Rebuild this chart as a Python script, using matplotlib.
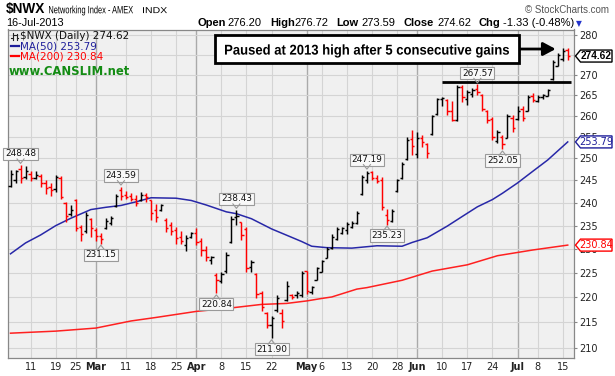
import matplotlib
matplotlib.use("Agg")
import matplotlib.pyplot as plt
import matplotlib.transforms as mtrans
from matplotlib.lines import Line2D
from matplotlib.patches import Polygon, Rectangle, PathPatch
from matplotlib.textpath import TextPath
from matplotlib.font_manager import FontProperties
from matplotlib.ticker import FixedLocator, NullLocator, FixedFormatter
import pandas as pd

# ---------------- data ----------------
holidays = ["2013-02-18", "2013-03-29", "2013-05-27", "2013-07-04"]
dates = pd.bdate_range("2013-02-05", "2013-07-16", freq="C", holidays=holidays)

opens = [243.8, 245.0, 247.5, 245.8, 246.5, 245.5, 246.0, 244.5, 243.5, 243.0,
         245.5, 240.0, 237.5, 240.5, 234.8, 233.8, 236.5, 234.0, 232.8, 234.5,
         235.5, 239.3, 242.8, 241.8, 241.5, 240.8, 240.5, 241.8, 240.5, 238.5,
         238.5, 236.3, 235.2, 234.0, 232.6, 230.8, 232.6, 233.5, 231.8, 229.8,
         227.8, 224.5, 223.3, 225.5, 231.5, 236.8, 235.7, 234.3, 226.3, 224.8,
         221.0, 216.8, 214.5, 217.5, 216.8, 219.5, 220.5, 220.4, 220.5, 225.4,
         221.2, 223.6, 225.3, 228.2, 230.3, 232.2, 233.5, 234.0, 234.8, 235.6,
         242.0, 245.0, 246.8, 245.6, 245.0, 237.4, 236.0, 242.6, 245.5, 249.8,
         254.5, 251.0, 254.8, 253.2, 255.6, 260.5, 264.0, 263.8, 261.0, 259.0,
         267.0, 264.0, 265.2, 266.4, 265.0, 261.2, 259.2, 254.0, 255.0, 254.8,
         259.5, 259.2, 261.5, 261.2, 264.8, 263.6, 264.4, 264.8, 268.8, 272.2,
         273.8, 276.20]
highs = [247.3, 247.4, 248.48, 248.2, 247.0, 247.2, 246.5, 245.0, 244.5, 246.2,
         246.0, 240.2, 239.4, 240.9, 235.2, 238.0, 236.7, 234.4, 233.5, 236.6,
         237.0, 242.0, 243.59, 242.6, 242.2, 241.8, 242.4, 242.2, 240.7, 239.8,
         239.8, 236.6, 235.7, 234.7, 233.8, 233.0, 233.7, 234.5, 232.3, 230.6,
         228.6, 224.9, 225.2, 229.3, 237.0, 238.43, 235.7, 234.7, 227.8, 224.9,
         221.4, 217.0, 216.3, 220.5, 217.7, 223.3, 220.8, 221.4, 225.5, 225.5,
         222.4, 226.2, 227.8, 230.5, 233.1, 234.7, 234.7, 235.7, 235.9, 238.2,
         246.2, 247.19, 247.0, 246.2, 245.8, 238.6, 238.6, 245.4, 249.2, 255.0,
         256.6, 256.2, 255.4, 253.5, 260.1, 264.3, 264.5, 264.0, 263.6, 267.3,
         267.4, 266.3, 266.6, 267.57, 265.2, 261.4, 259.7, 256.6, 255.4, 260.5,
         260.1, 262.4, 262.4, 265.0, 265.4, 265.0, 265.3, 266.5, 273.6, 275.3,
         276.6, 276.72]
lows = [243.5, 244.3, 244.5, 245.3, 244.8, 245.2, 243.5, 242.0, 241.5, 242.4,
        240.8, 235.8, 237.0, 233.8, 231.8, 233.5, 232.5, 231.7, 231.15, 234.2,
        235.1, 239.1, 240.6, 240.8, 240.3, 239.2, 240.4, 240.2, 236.2, 235.7,
        238.2, 233.7, 232.9, 231.1, 231.0, 229.5, 232.3, 230.8, 228.6, 227.5,
        226.9, 220.84, 222.9, 224.9, 231.3, 235.1, 231.9, 225.2, 225.2, 219.8,
        217.3, 214.0, 211.9, 217.0, 214.0, 219.2, 219.7, 219.8, 220.1, 220.8,
        220.8, 223.5, 225.2, 228.1, 230.1, 231.9, 233.2, 233.3, 234.5, 235.4,
        241.8, 244.5, 245.0, 244.5, 238.4, 235.23, 235.7, 242.4, 245.3, 249.6,
        250.7, 250.0, 252.5, 250.0, 255.4, 260.1, 262.4, 260.2, 258.6, 258.8,
        263.3, 262.6, 264.6, 265.0, 261.0, 258.3, 254.2, 253.5, 252.05, 254.6,
        256.2, 258.9, 258.6, 261.0, 263.3, 263.3, 263.9, 264.7, 268.6, 272.0,
        273.3, 273.59]
closes = [246.5, 247.0, 245.6, 247.2, 245.5, 246.3, 244.5, 243.2, 242.8, 245.8,
          241.2, 237.0, 238.5, 234.5, 233.2, 237.3, 234.5, 232.8, 232.2, 236.0,
          236.7, 241.6, 241.5, 241.3, 240.9, 240.0, 241.8, 241.2, 237.8, 236.8,
          239.4, 234.6, 233.8, 232.4, 231.8, 232.3, 233.4, 231.6, 229.8, 228.3,
          228.4, 223.5, 224.8, 228.8, 236.5, 237.2, 233.0, 226.0, 227.3, 220.6,
          218.0, 214.6, 215.8, 219.8, 215.3, 222.4, 220.0, 221.0, 225.0, 221.4,
          222.2, 226.0, 227.5, 230.0, 232.6, 234.3, 234.5, 235.3, 235.6, 237.8,
          245.8, 246.7, 245.6, 244.9, 239.0, 236.3, 238.2, 245.0, 248.8, 254.2,
          252.8, 254.6, 253.8, 251.2, 259.8, 264.0, 264.3, 261.2, 259.0, 266.8,
          264.5, 265.6, 266.2, 265.6, 261.6, 259.0, 255.0, 256.0, 253.2, 259.8,
          257.0, 261.2, 259.4, 264.5, 263.8, 264.6, 265.0, 266.3, 273.2, 274.8,
          275.95, 274.62]

ma50_days = [0, 3, 6, 9, 12, 16, 19, 22, 25, 28, 33, 36, 39, 43, 45, 48, 52, 56,
             58, 60, 63, 68, 73, 78, 80, 83, 87, 90, 93, 96, 98, 101, 104, 107, 111]
ma50_vals = [229.0, 231.3, 233.0, 235.0, 236.6, 238.5, 239.0, 239.4, 240.2, 241.1,
             241.0, 240.5, 239.5, 238.0, 237.6, 236.5, 234.3, 232.5, 231.6, 230.6,
             230.3, 230.2, 230.7, 230.6, 231.4, 232.4, 234.9, 237.0, 239.1, 240.7,
             242.1, 244.4, 247.0, 249.6, 253.79]
ma200_days = [0, 9, 17, 24, 29, 37, 44, 50, 55, 59, 62, 64, 69, 71, 78, 84, 91, 97, 104, 111]
ma200_vals = [212.9, 213.3, 213.9, 215.3, 216.0, 217.2, 217.9, 218.6, 218.8, 219.3,
              219.8, 220.1, 221.7, 222.0, 223.5, 225.4, 226.7, 228.6, 229.8, 230.84]

tick_dates = ["2013-02-11", "2013-02-19", "2013-02-25", "2013-03-01", "2013-03-11",
              "2013-03-18", "2013-03-25", "2013-04-01", "2013-04-08", "2013-04-15",
              "2013-04-22", "2013-05-01", "2013-05-06", "2013-05-13", "2013-05-20",
              "2013-05-28", "2013-06-03", "2013-06-10", "2013-06-17", "2013-06-24",
              "2013-07-01", "2013-07-08", "2013-07-15"]
tick_labels = ["11", "19", "25", "Mar", "11", "18", "25", "Apr", "8", "15", "22",
               "May", "6", "13", "20", "28", "Jun", "10", "17", "24", "Jul", "8", "15"]
month_labels = {"Mar", "Apr", "May", "Jun", "Jul"}

y_ticks = [210, 215, 220, 225, 230, 235, 240, 245, 250, 255, 260, 265, 270, 275, 280]
y_tick_labels = ["210", "215", "220", "225", "230", "235", "240", "245", "250",
                 "255", "260", "265", "270", "", "280"]   # 275 sits under the close box

# high/low callouts: (day index, value, above?)
callouts = [(2, 248.48, True), (18, 231.15, False), (22, 243.59, True),
            (41, 220.84, False), (45, 238.43, True), (52, 211.90, False),
            (71, 247.19, True), (75, 235.23, False), (93, 267.57, True),
            (98, 252.05, False)]
resistance = 268.2
last_close, ma50_last, ma200_last = 274.62, 253.79, 230.84
note_text = "Paused at 2013 high after 5 consecutive gains"

# ---------------- figure ----------------
W, H = 615, 376
fig = plt.figure(figsize=(W / 100, H / 100), dpi=100)
fig.patch.set_facecolor("white")
L, R, T, B = 8, 574, 29.5, 358
ax = fig.add_axes([L / W, 1 - B / H, (R - L) / W, (B - T) / H])
ax.set_facecolor("#F0F0F0")
ax.set_yscale("log")
ax.set_ylim(208.1, 281.4)
ax.set_xlim(-0.5, 112.25)

xs = list(range(len(dates)))
date_index = {d.strftime("%Y-%m-%d"): i for i, d in enumerate(dates)}
tick_pos = [date_index[d] for d in tick_dates]

# grid
for p, lab in zip(tick_pos, tick_labels):
    if lab in month_labels:
        ax.axvline(p, color="#AAAAAA", lw=1.0, zorder=0)
    else:
        ax.axvline(p, color="#D4D4D4", lw=0.8, zorder=0)
for v in y_ticks:
    ax.axhline(v, color="#D4D4D4", lw=0.8, zorder=0)

# MAs
ax.plot(ma200_days, ma200_vals, color="#FF2020", lw=1.1, zorder=2)
ax.plot(ma50_days, ma50_vals, color="#2828A8", lw=1.1, zorder=2)

# OHLC bars
tk = 0.45
for i in xs:
    up = i == 0 or closes[i] >= closes[i - 1]
    c = "black" if up else "#FF0000"
    ax.vlines(i, lows[i], highs[i], color=c, lw=1.05, zorder=3)
    ax.hlines(opens[i], i - tk, i, color=c, lw=1.05, zorder=3)
    ax.hlines(closes[i], i, i + tk, color=c, lw=1.05, zorder=3)

# resistance line
ax.hlines(resistance, 86, 111.6, color="black", lw=2.0, zorder=4)

# axes styling
for s in ax.spines.values():
    s.set_color("#888888")
    s.set_linewidth(0.9)
ax.yaxis.tick_right()
ax.yaxis.set_major_locator(FixedLocator(y_ticks))
ax.yaxis.set_major_formatter(FixedFormatter(y_tick_labels))
ax.yaxis.set_minor_locator(NullLocator())
ax.tick_params(axis="y", which="both", length=2, pad=2, labelsize=7,
               colors="#888888", labelcolor="#222222")
ax.set_xticks(tick_pos)
ax.set_xticklabels(tick_labels)
ax.tick_params(axis="x", length=0, pad=3, labelsize=7, labelcolor="#222222")
for tl in ax.get_xticklabels():
    if tl.get_text() in month_labels:
        tl.set_fontweight("bold")

ident = mtrans.IdentityTransform()

# callout boxes
for i, v, above in callouts:
    xd, yd = ax.transData.transform((i, v))
    off = 11 if above else -11
    yc = yd + off
    ax.text(xd, yc, f"{v:.2f}", transform=ident, ha="center", va="center",
            fontsize=6.4, color="#111111", zorder=9, clip_on=False,
            bbox=dict(boxstyle="square,pad=0.18", fc="#F8F8F8", ec="#9A9A9A", lw=0.8))
    edge = yc - 5 if above else yc + 5
    tip = yd + 1.5 if above else yd - 1.5
    ax.add_line(Line2D([xd - 3.5, xd, xd + 3.5], [edge, tip, edge], transform=ident,
                       color="#9A9A9A", lw=0.8, zorder=9, clip_on=False))


# right value boxes
def right_box(val, txt_color, edge_color, bold):
    _, yd = ax.transData.transform((0, val))
    x0 = R + 1.5
    poly = [(x0, yd), (x0 + 5, yd + 6), (612, yd + 6), (612, yd - 6), (x0 + 5, yd - 6)]
    ax.add_patch(Polygon(poly, closed=True, transform=ident, fc="white", ec=edge_color,
                         lw=1.0, zorder=10, clip_on=False))
    ax.text((x0 + 5 + 612) / 2, yd, f"{val:.2f}", transform=ident, ha="center",
            va="center", fontsize=7.3 if bold else 7, color=txt_color,
            fontweight="bold" if bold else "normal",
            family=["Liberation Sans", "DejaVu Sans"] if bold else ["DejaVu Sans"],
            zorder=11, clip_on=False)


right_box(last_close, "black", "black", True)
right_box(ma50_last, "#1E1E9A", "#1E1E9A", False)
right_box(ma200_last, "#FF0000", "#FF0000", False)


# narrow text drawn as a horizontally compressed path (pixel coords from top-left)
def path_text(s, x_px, y_px, size_px, width_px, weight="normal", color="black",
              ha="left", zorder=20):
    tp = TextPath((0, 0), s, size=size_px,
                  prop=FontProperties(family="Liberation Sans", weight=weight))
    bb = tp.get_extents()
    sx = width_px / bb.width
    ref = bb.x0 if ha == "left" else bb.x0 + bb.width / 2
    cap = 0.716 * size_px
    tr = mtrans.Affine2D().translate(-ref, -cap / 2).scale(sx, 1).translate(x_px, H - y_px)
    fig.add_artist(PathPatch(tp, transform=tr, fc=color, ec="none", lw=0, zorder=zorder))


# annotation box + arrow
box_l, box_r, box_t, box_b = 215, 519, 35, 63
fig.add_artist(Rectangle((box_l, H - box_b), box_r - box_l, box_b - box_t, transform=ident,
                         fc="white", ec="black", lw=2.0, zorder=15))
path_text(note_text, (box_l + box_r) / 2, 49.5, 14.2, 284, weight="bold", ha="center", zorder=16)
_, y_arrow = ax.transData.transform((108.6, 276.4))
ax.annotate("", xy=(108.6, 276.4), xycoords="data", xytext=(box_r + 1, y_arrow),
            textcoords="figure pixels", zorder=12,
            arrowprops=dict(arrowstyle="-|>,head_length=0.75,head_width=0.4",
                            color="black", lw=2.0, shrinkA=0, shrinkB=0))


# ---------------- header texts ----------------
def ftext(x, y, s, **kw):
    fig.text(x / W, 1 - y / H, s, va="center", **kw)


ftext(6, 9, "$NWX", fontsize=9.8, fontweight="bold", family="Liberation Sans")
path_text("Networking Index - AMEX", 49, 9.5, 10.6, 84)
path_text("INDX", 143, 10.0, 8.6, 24)
ftext(609, 10, "\u00a9 StockCharts.com", fontsize=7, ha="right", color="#555555",
      family="Liberation Sans")
ftext(6, 23, "16-Jul-2013", fontsize=7.8, family="Liberation Sans")

hdr = [("Open", True, 198), ("276.20", False, 227), ("High", True, 270),
       ("276.72", False, 294.5), ("Low", True, 336.5), ("273.59", False, 361),
       ("Close", True, 403), ("274.62", False, 437), ("Chg", True, 479),
       ("-1.33 (-0.48%)", False, 503)]
for s, b, x in hdr:
    ftext(x, 23, s, fontsize=8, fontweight="bold" if b else "normal",
          family="Liberation Sans", color="black")
ftext(576, 23.5, "\u25bc", fontsize=5.5, color="#2233CC", family="DejaVu Sans")

# legend inside plot
for (x, y1, y2, o, c) in [(12.5, 32.5, 39.5, 37.5, 35), (16.5, 33.5, 39.5, 35, 38)]:
    fig.add_artist(Line2D([x / W, x / W], [1 - y1 / H, 1 - y2 / H], color="#222222", lw=0.8))
    fig.add_artist(Line2D([(x - 1.5) / W, x / W], [1 - o / H, 1 - o / H], color="#222222", lw=0.8))
    fig.add_artist(Line2D([x / W, (x + 1.5) / W], [1 - c / H, 1 - c / H], color="#222222", lw=0.8))
ftext(19.5, 36, "$NWX (Daily) 274.62", fontsize=7.5, family="DejaVu Sans", color="#111111")
fig.add_artist(Line2D([11 / W, 19 / W], [1 - 46 / H] * 2, color="#1E1E9A", lw=1.6))
ftext(20, 46.5, "MA(50) 253.79", fontsize=7.5, family="DejaVu Sans", color="#1E1E9A")
fig.add_artist(Line2D([11 / W, 19 / W], [1 - 56 / H] * 2, color="#FF0000", lw=1.6))
ftext(20, 56.5, "MA(200) 230.84", fontsize=7.5, family="DejaVu Sans", color="#FF0000")
ftext(9, 71.5, "www.CANSLIM.net", fontsize=8.4, fontweight="bold",
      family="DejaVu Sans", color="#148C14")

fig.savefig("out.png", dpi=100, facecolor="white")
